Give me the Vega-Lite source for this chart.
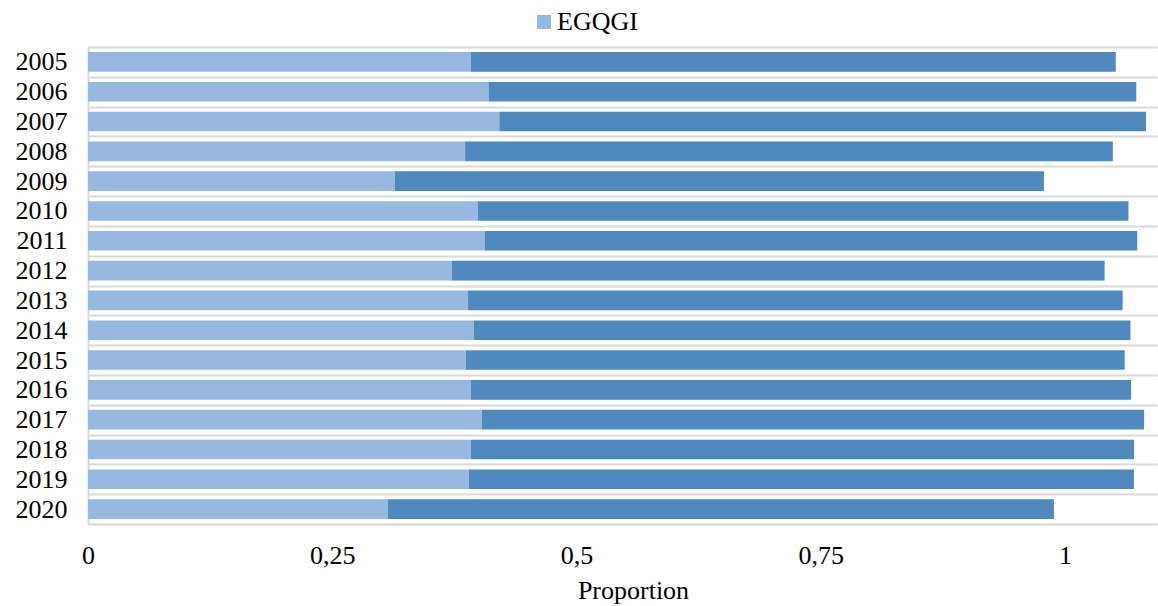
{
  "$schema": "https://vega.github.io/schema/vega-lite/v6.json",
  "width": 1069,
  "height": 477,
  "autosize": {"type": "none"},
  "padding": {"left": 88, "top": 47, "right": 1, "bottom": 82},
  "background": "white",
  "data": {
    "values": [
      {"year": "2005", "series": "EGQGI", "value": 0.392, "ord": 1},
      {"year": "2005", "series": "Other", "value": 0.660, "ord": 2},
      {"year": "2006", "series": "EGQGI", "value": 0.410, "ord": 1},
      {"year": "2006", "series": "Other", "value": 0.663, "ord": 2},
      {"year": "2007", "series": "EGQGI", "value": 0.421, "ord": 1},
      {"year": "2007", "series": "Other", "value": 0.662, "ord": 2},
      {"year": "2008", "series": "EGQGI", "value": 0.386, "ord": 1},
      {"year": "2008", "series": "Other", "value": 0.663, "ord": 2},
      {"year": "2009", "series": "EGQGI", "value": 0.314, "ord": 1},
      {"year": "2009", "series": "Other", "value": 0.6645, "ord": 2},
      {"year": "2010", "series": "EGQGI", "value": 0.399, "ord": 1},
      {"year": "2010", "series": "Other", "value": 0.666, "ord": 2},
      {"year": "2011", "series": "EGQGI", "value": 0.406, "ord": 1},
      {"year": "2011", "series": "Other", "value": 0.668, "ord": 2},
      {"year": "2012", "series": "EGQGI", "value": 0.3726, "ord": 1},
      {"year": "2012", "series": "Other", "value": 0.668, "ord": 2},
      {"year": "2013", "series": "EGQGI", "value": 0.389, "ord": 1},
      {"year": "2013", "series": "Other", "value": 0.670, "ord": 2},
      {"year": "2014", "series": "EGQGI", "value": 0.395, "ord": 1},
      {"year": "2014", "series": "Other", "value": 0.672, "ord": 2},
      {"year": "2015", "series": "EGQGI", "value": 0.3866, "ord": 1},
      {"year": "2015", "series": "Other", "value": 0.6745, "ord": 2},
      {"year": "2016", "series": "EGQGI", "value": 0.3917, "ord": 1},
      {"year": "2016", "series": "Other", "value": 0.676, "ord": 2},
      {"year": "2017", "series": "EGQGI", "value": 0.403, "ord": 1},
      {"year": "2017", "series": "Other", "value": 0.678, "ord": 2},
      {"year": "2018", "series": "EGQGI", "value": 0.3917, "ord": 1},
      {"year": "2018", "series": "Other", "value": 0.679, "ord": 2},
      {"year": "2019", "series": "EGQGI", "value": 0.390, "ord": 1},
      {"year": "2019", "series": "Other", "value": 0.6806, "ord": 2},
      {"year": "2020", "series": "EGQGI", "value": 0.3067, "ord": 1},
      {"year": "2020", "series": "Other", "value": 0.682, "ord": 2}
    ]
  },
  "mark": {"type": "bar", "height": {"band": 0.66}},
  "encoding": {
    "y": {
      "field": "year",
      "type": "ordinal",
      "scale": {"paddingInner": 0, "paddingOuter": 0},
      "axis": {
        "title": null,
        "tickBand": "extent",
        "grid": true,
        "gridColor": "#D9D9D9",
        "gridWidth": 2,
        "ticks": false,
        "domain": true,
        "domainColor": "#D9D9D9",
        "domainWidth": 2,
        "labelFont": "Liberation Serif",
        "labelFontSize": 26,
        "labelColor": "#000000",
        "labelPadding": 21
      }
    },
    "x": {
      "field": "value",
      "type": "quantitative",
      "stack": "zero",
      "scale": {"domain": [0, 1.0942], "nice": false, "zero": true},
      "axis": {
        "title": "Proportion",
        "values": [0, 0.25, 0.5, 0.75, 1],
        "labelExpr": "replace(toString(datum.value), '.', ',')",
        "grid": false,
        "ticks": false,
        "domain": true,
        "domainColor": "#D9D9D9",
        "domainWidth": 2,
        "labelFont": "Liberation Serif",
        "labelFontSize": 26,
        "labelColor": "#000000",
        "labelPadding": 18,
        "labelFlush": false,
        "titleFont": "Liberation Serif",
        "titleFontSize": 26,
        "titleFontWeight": "normal",
        "titleColor": "#000000",
        "titlePadding": 9,
        "titleX": 545
      }
    },
    "color": {
      "field": "series",
      "type": "nominal",
      "scale": {"domain": ["EGQGI", "Other"], "range": ["#97B9E0", "#4F89BD"]},
      "legend": {
        "title": null,
        "values": ["EGQGI"],
        "orient": "none",
        "legendX": 443,
        "legendY": -38,
        "padding": 0,
        "symbolType": "square",
        "symbolSize": 196,
        "symbolStrokeWidth": 0,
        "labelFont": "Liberation Serif",
        "labelFontSize": 26,
        "labelColor": "#000000",
        "labelOffset": 0
      }
    },
    "order": {"field": "ord", "type": "quantitative"}
  },
  "config": {"view": {"stroke": null}}
}
